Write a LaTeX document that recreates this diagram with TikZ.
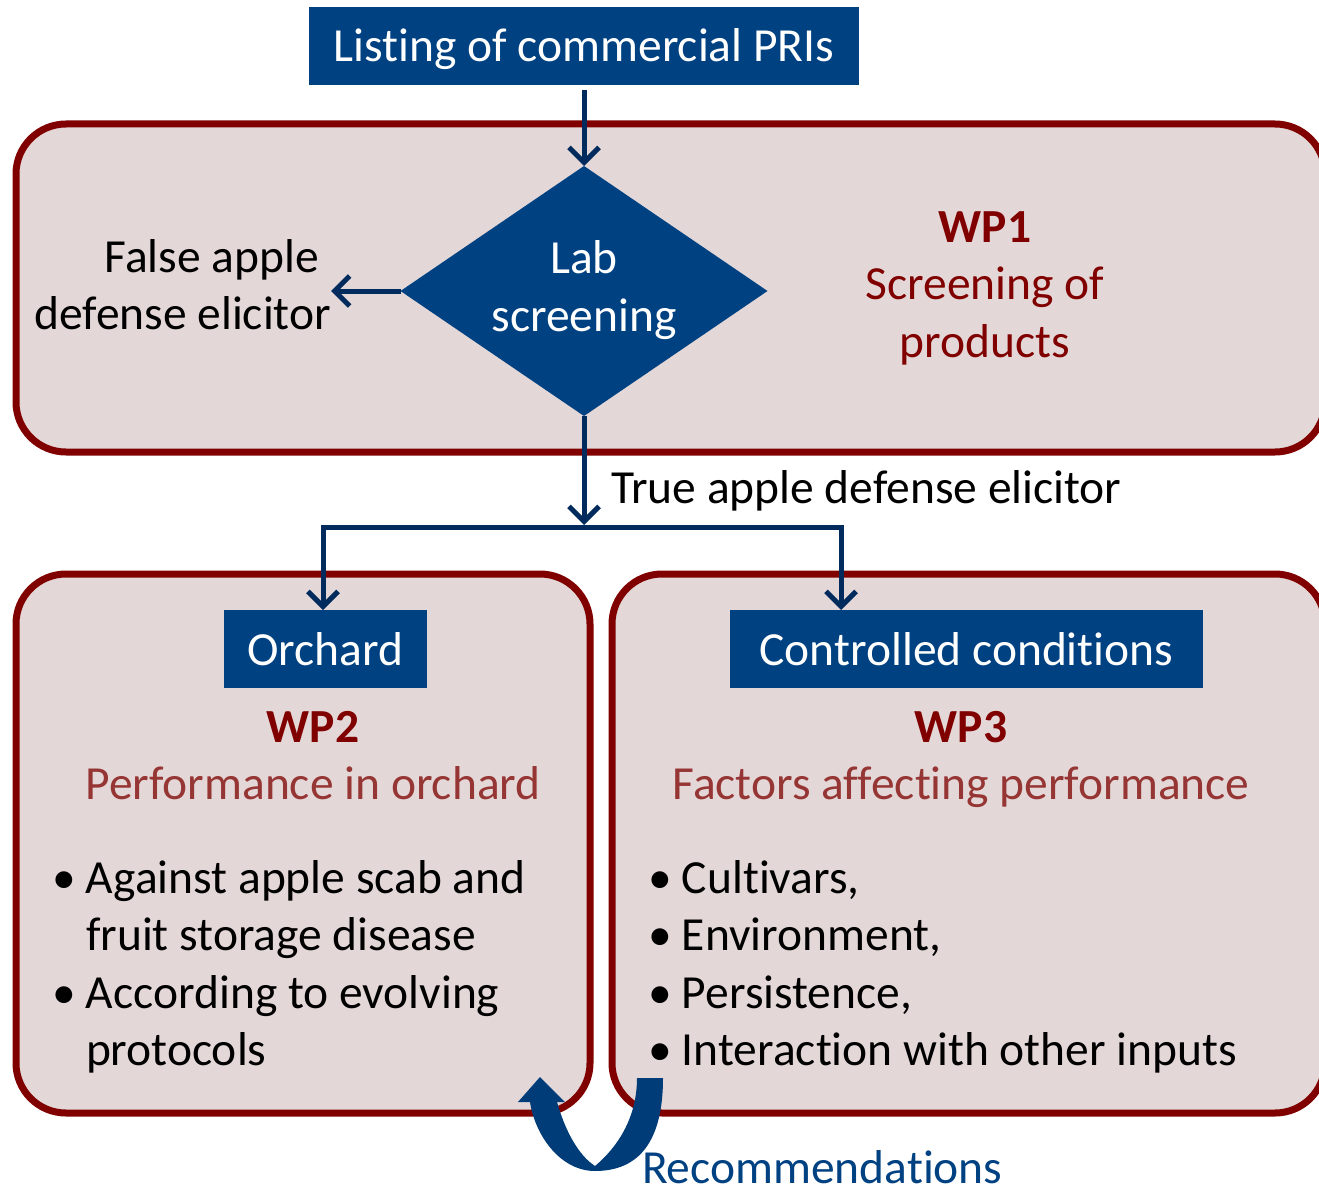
\documentclass[tikz,border=0pt]{standalone}
\usepackage{fontspec}
\setmainfont{Carlito}[RawFeature={-liga;-clig;-calt;-dlig}]
\usetikzlibrary{shapes.geometric,arrows.meta}
\definecolor{navy}{RGB}{0,65,130}
\definecolor{arrowblue}{RGB}{0,43,92}
\definecolor{wpred}{RGB}{128,0,0}
\definecolor{subred}{RGB}{150,54,52}
\definecolor{wpfill}{RGB}{228,215,215}
\definecolor{curvblue}{RGB}{0,60,120}
\newcommand\bl{\makebox[34pt][l]{•}}
\newcommand\ind{\hspace*{34pt}}
\tikzset{
  wpbox/.style={draw=wpred,line width=7pt,fill=wpfill,rounded corners=50pt,inner sep=0pt,outer sep=0pt},
  bluebox/.style={fill=navy,text=white,inner sep=0pt,outer sep=0pt,text height=32pt,text depth=0pt},
  conn/.style={draw=arrowblue,line width=5pt,-{Straight Barb[length=15pt,width=30pt]}},
  plainline/.style={draw=arrowblue,line width=5pt},
  txt/.style={inner sep=0pt,outer sep=0pt},
}
\begin{document}
\begin{tikzpicture}[x=1pt,y=-1pt,font=\fontsize{47.5pt}{57.5pt}\selectfont]
\useasboundingbox (0,0) rectangle (1319,1196);
\clip (0,0) rectangle (1319,1196);
% boxes
\node[wpbox,minimum width=1309pt,minimum height=328pt] (wp1box) at (670.5,288) {};
\node[wpbox,minimum width=574pt,minimum height=539pt] (wp2box) at (303,843.5) {};
\node[wpbox,minimum width=713pt,minimum height=539pt] (wp3box) at (968.5,843.5) {};
% top box
\node[bluebox,minimum width=550pt,minimum height=78pt] (list) at (584,46) {Listing of commercial PRIs};
% diamond
\node[diamond,fill=navy,text=white,inner sep=0pt,outer sep=0pt,aspect=1.468,minimum width=367pt,minimum height=250pt] (dia) at (584,291) {\raisebox{-4pt}{\begin{tabular}{@{}c@{}}Lab\\screening\end{tabular}}};
% false
\node[txt,anchor=base east] (fae) at (331,272) {\begin{tabular}[t]{@{}r@{}}False apple\hspace*{12pt}\\defense elicitor\end{tabular}};
% WP1 text
\node[txt,anchor=base,text=wpred] (wp1t) at (985,242) {\begin{tabular}[t]{@{}c@{}}\textbf{WP1}\\Screening of\\products\end{tabular}};
% true
\node[txt,anchor=base west] (tae) at (611,503) {True apple defense elicitor};
% blue boxes
\node[bluebox,minimum width=203pt,minimum height=78pt] (orch) at (325.5,649) {Orchard};
\node[bluebox,minimum width=473pt,minimum height=78pt] (cc) at (966.5,649) {Controlled conditions};
% WP2 / WP3 texts
\node[txt,anchor=base] (wp2t) at (313,742) {\begin{tabular}[t]{@{}c@{}}{\color{wpred}\textbf{WP2}}\\{\color{subred}Performance in orchard}\end{tabular}};
\node[txt,anchor=base] (wp3t) at (961,742) {\begin{tabular}[t]{@{}c@{}}{\color{wpred}\textbf{WP3}}\\{\color{subred}Factors affecting performance}\end{tabular}};
\node[txt,anchor=base west] (l2) at (52,893) {\begin{tabular}[t]{@{}l@{}}\bl Against apple scab and\\\ind fruit storage disease\\\bl According to evolving\\\ind protocols\end{tabular}};
\node[txt,anchor=base west] (l3) at (648,893) {\begin{tabular}[t]{@{}l@{}}\bl Cultivars,\\\bl Environment,\\\bl Persistence,\\\bl Interaction with other inputs\end{tabular}};
\node[txt,anchor=base west,text=navy] (rec) at (642,1183) {Recommendations};
% connectors
\coordinate (junc) at (584,525);
\coordinate (jl) at (323,527);
\coordinate (jr) at (841,527);
\draw[conn] (list.south) ++(0,5) -- (dia.north);
\draw[conn] (dia.west) -- (dia.west -| fae.east);
\draw[conn] (dia.south) -- (junc);
\draw[plainline,line cap=rect] (jl) -- (jr);
\draw[conn] (jl) -- (jl |- orch.north);
\draw[conn] (jr) -- (jr |- cc.north);
% curved arrow
\fill[curvblue] (637,1078) -- (663,1078) .. controls (663,1140) and (640,1171) .. (595,1171)
  .. controls (560,1171) and (535,1135) .. (530,1102) -- (518,1102) -- (540,1077) -- (565,1102) -- (557,1102)
  .. controls (565,1130) and (578,1155) .. (595,1166) .. controls (620,1145) and (637,1115) .. (637,1078) -- cycle;
\end{tikzpicture}
\end{document}
